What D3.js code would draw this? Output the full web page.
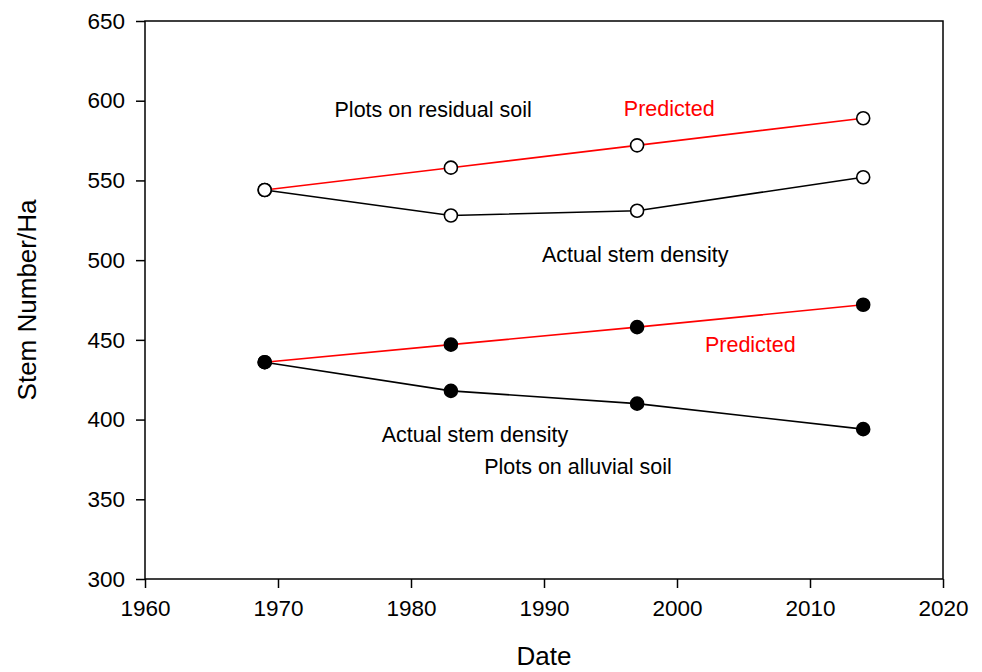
<!DOCTYPE html>
<html><head><meta charset="utf-8">
<script src="https://cdn.jsdelivr.net/npm/d3@7"></script>
<style>body{margin:0;background:#fff;} svg{display:block;font-family:"Liberation Sans",Arial,sans-serif;}</style>
</head><body>
<svg id="c" width="982" height="672"></svg>
<script>
const years = [1969, 1983, 1997, 2014];
const residualPredicted = [544, 558, 572, 589];
const residualActual = [544, 528, 531, 552];
const alluvialPredicted = [436, 447, 458, 472];
const alluvialActual = [436, 418, 410, 394];
const xTicks = [1960, 1970, 1980, 1990, 2000, 2010, 2020];
const yTicks = [300, 350, 400, 450, 500, 550, 600, 650];
const annotations = [
  {text: "Plots on residual soil", x: 1974.25, y: 589.5, color: "#000"},
  {text: "Predicted", x: 1996, y: 590.5, color: "#ff0000"},
  {text: "Actual stem density", x: 1989.85, y: 499, color: "#000"},
  {text: "Predicted", x: 2002.1, y: 442.5, color: "#ff0000"},
  {text: "Actual stem density", x: 1977.8, y: 386, color: "#000"},
  {text: "Plots on alluvial soil", x: 1985.5, y: 366, color: "#000"}
];

const svg = d3.select("#c");
const L = 145, R = 943, T = 21, B = 579;
const x = d3.scaleLinear().domain([1960, 2020]).range([L, R]);
const y = d3.scaleLinear().domain([300, 650]).range([B, T]);

svg.append("rect").attr("x", L).attr("y", T).attr("width", R - L).attr("height", B - T)
  .attr("fill", "none").attr("stroke", "#000").attr("stroke-width", 1.5);

const xAxis = svg.append("g").attr("transform", `translate(0,${B})`)
  .call(d3.axisBottom(x).tickValues(xTicks).tickFormat(d3.format("d")).tickSize(9).tickPadding(12));
const yAxis = svg.append("g").attr("transform", `translate(${L},0)`)
  .call(d3.axisLeft(y).tickValues(yTicks).tickSize(9).tickPadding(11));
[xAxis, yAxis].forEach(a => {
  a.select(".domain").remove();
  a.selectAll("line").attr("stroke", "#000").attr("stroke-width", 1.5);
  a.selectAll("text").attr("font-size", 22.5).attr("fill", "#000")
    .attr("font-family", '"Liberation Sans",Arial,sans-serif');
});

const line = d3.line().x((d, i) => x(years[i])).y(d => y(d));
const series = [
  {vals: residualActual, color: "#000", fill: "#fff"},
  {vals: residualPredicted, color: "#ff0000", fill: "#fff"},
  {vals: alluvialActual, color: "#000", fill: "#000"},
  {vals: alluvialPredicted, color: "#ff0000", fill: "#000"}
];
series.forEach(s => {
  svg.append("path").datum(s.vals).attr("d", line).attr("fill", "none")
    .attr("stroke", s.color).attr("stroke-width", 1.6);
});
series.forEach(s => {
  svg.append("g").selectAll("circle").data(s.vals).join("circle")
    .attr("cx", (d, i) => x(years[i])).attr("cy", d => y(d)).attr("r", 6.5)
    .attr("fill", s.fill).attr("stroke", "#000").attr("stroke-width", 1.6);
});

svg.append("g").selectAll("text").data(annotations).join("text")
  .attr("x", d => x(d.x)).attr("y", d => y(d.y))
  .attr("font-size", 21.5).attr("fill", d => d.color).text(d => d.text);

svg.append("text").attr("x", (L + R) / 2).attr("y", 665).attr("text-anchor", "middle")
  .attr("font-size", 26).attr("fill", "#000").text("Date");
svg.append("text").attr("transform", `translate(36,${(T + B) / 2}) rotate(-90)`)
  .attr("text-anchor", "middle").attr("font-size", 26).attr("fill", "#000").text("Stem Number/Ha");
</script>
</body></html>
